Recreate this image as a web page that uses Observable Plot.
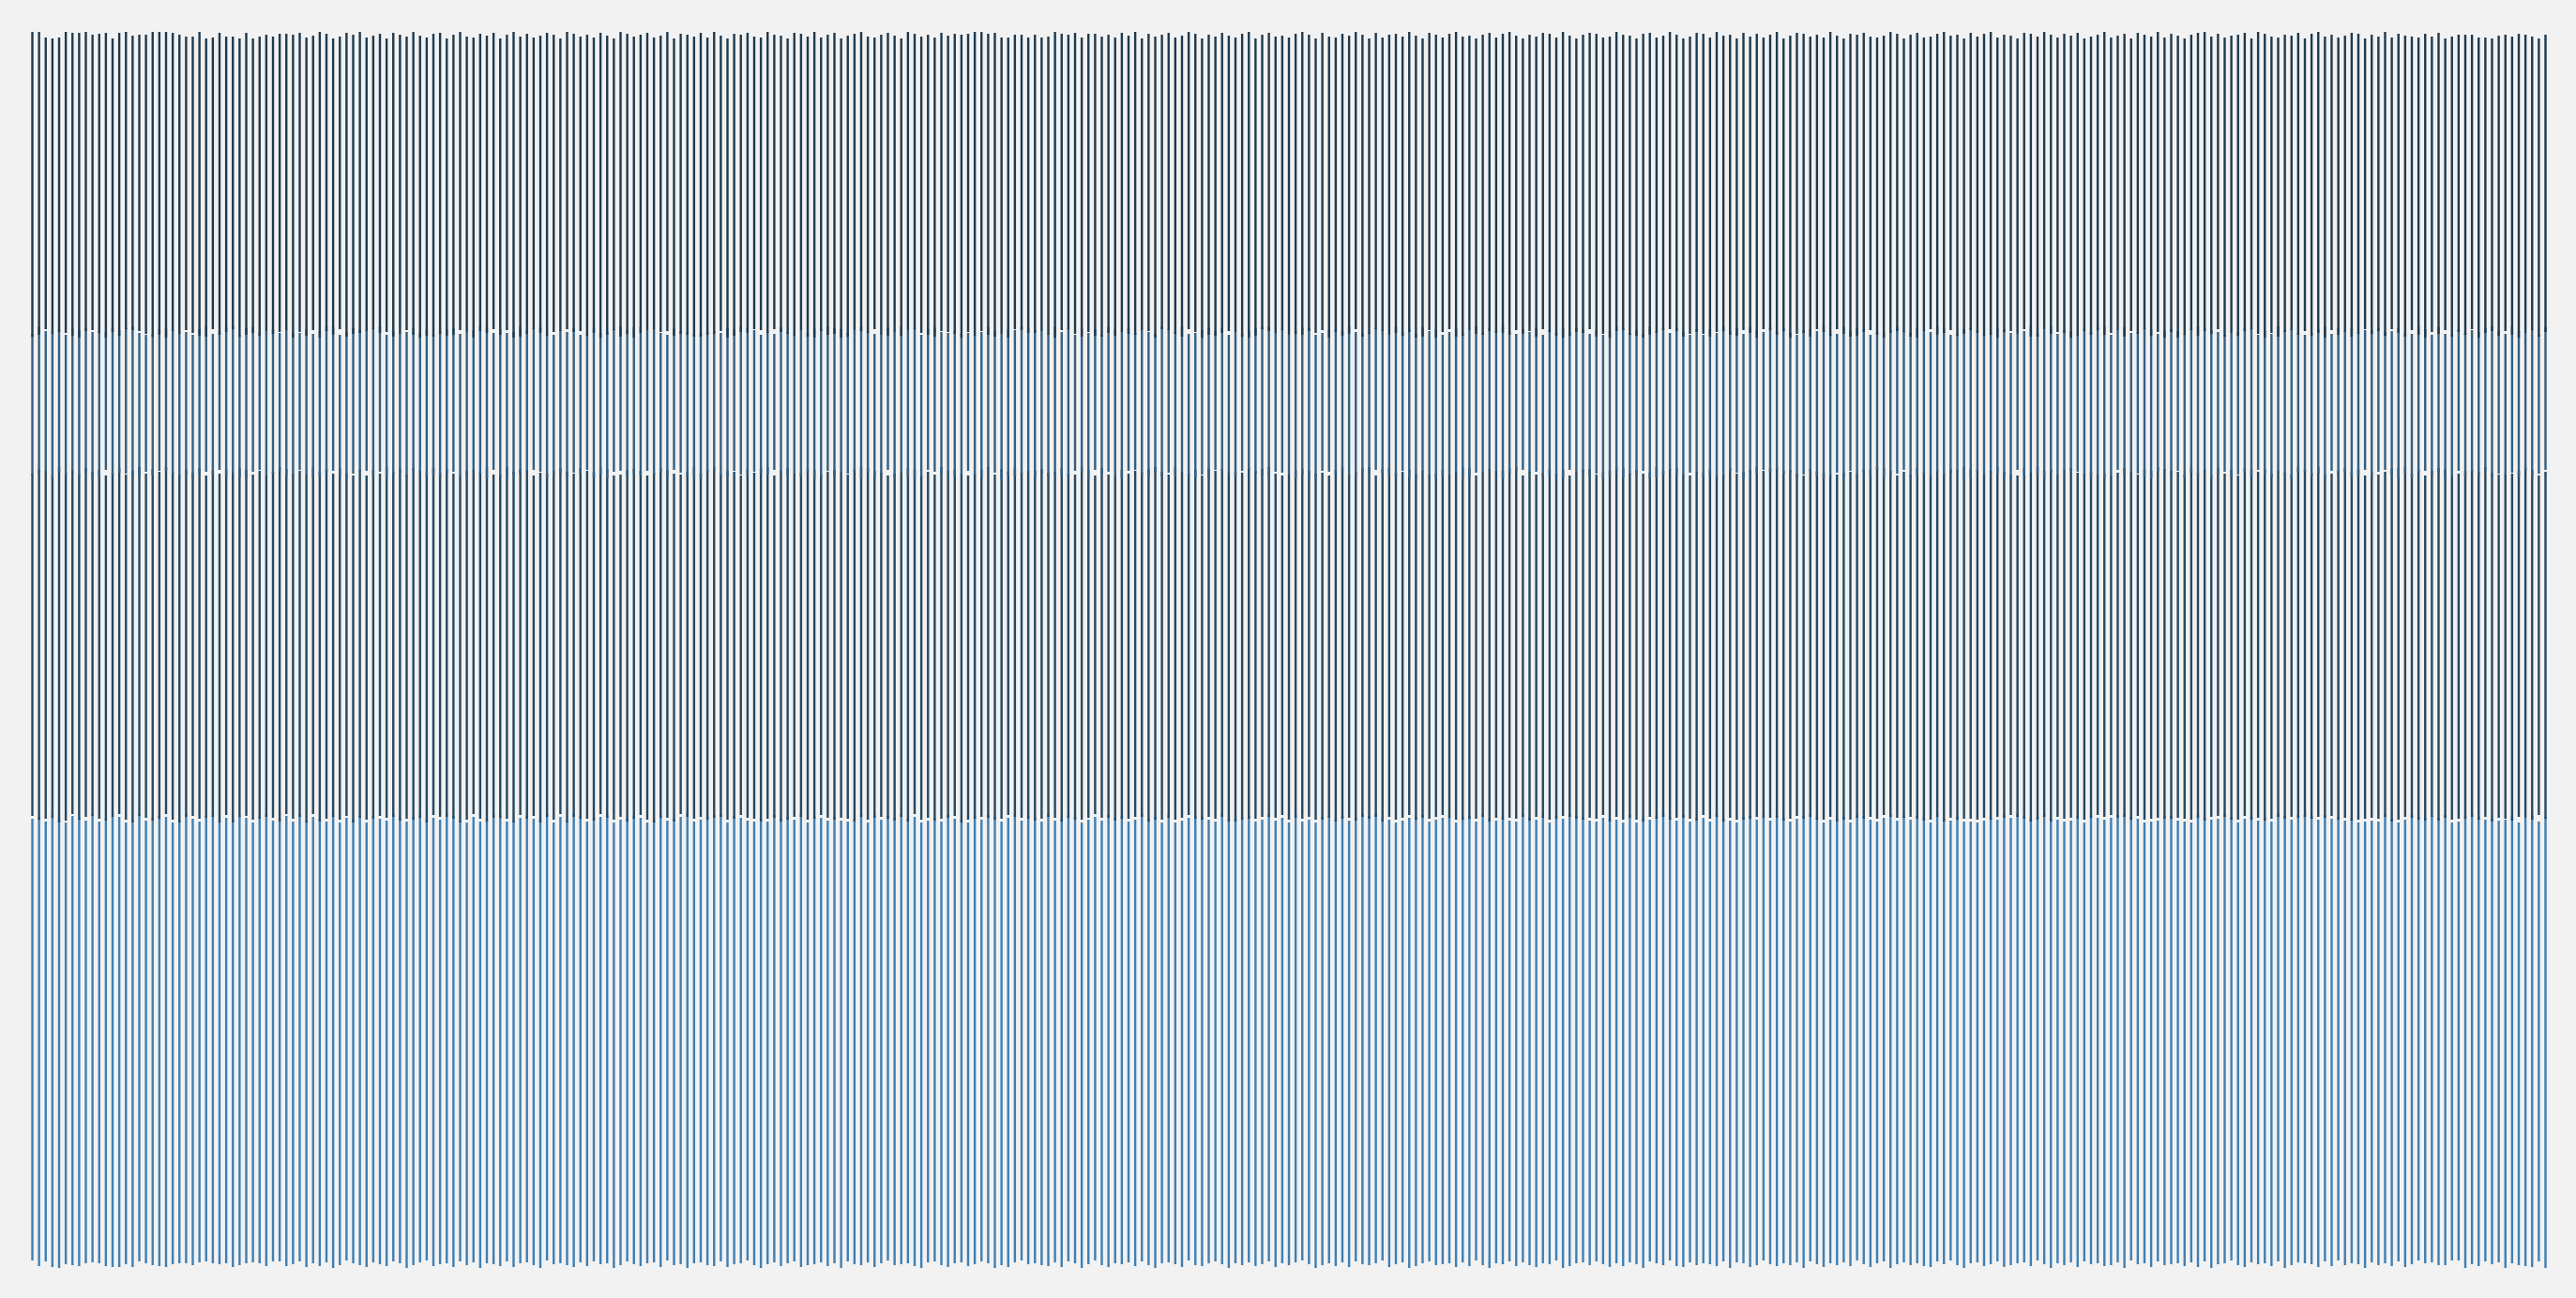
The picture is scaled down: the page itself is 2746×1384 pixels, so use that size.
<!DOCTYPE html>
<html><head><meta charset="utf-8">
<script src="https://cdn.jsdelivr.net/npm/d3@7"></script>
<script src="https://cdn.jsdelivr.net/npm/@observablehq/plot@0.6"></script>
<style>html,body{margin:0;padding:0;background:#f2f2f2;overflow:hidden}</style>
</head><body><div id="chart"></div>
<script>
// Segment 1 (top, dark): upper and lower ends
const s1hi = [1313,1313,1307,1306,1307,1313,1312,1312,1313,1310,1311,1312,1306,1312,1313,1309,1310,1310,1313,1313,1313,1312,1310,1308,1308,1313,1306,1307,1312,1308,1308,1306,1312,1306,1308,1310,1308,1311,1311,
1310,1312,1307,1309,1313,1311,1306,1308,1312,1310,
1313,1307,1309,1311,1306,1312,1310,1308,1313,1309,
1307,1311,1312,1306,1310,1313,1308,1307,1311,1309,
1312,1306,1310,1313,1308,1311,1307,1309,1312,1310,
1306,1313,1311,1308,1310,1307,1312,1309,1306,1313,
1311,1308,1310,1312,1307,1309,1313,1306,1311,1310,
1308,1312,1307,1313,1309,1306,1311,1310,1312,1308,
1307,1313,1310,1309,1306,1312,1311,1308,1313,1307,
1310,1312,1306,1309,1311,1313,1308,1307,1310,1312,
1309,1306,1313,1311,1308,1310,1307,1312,1309,1311,
1310,
1311,1313,1313,1311,1312,1307,1307,1310,1310,1307,1310,1307,1308,1313,1311,1310,1312,1307,1311,1311,1308,
1310,1307,1312,1309,1313,1306,1311,1308,1310,1312,
1307,1309,1313,1311,1306,1310,1308,1312,1309,1307,
1311,1313,1306,1310,1312,1308,1309,1307,1311,1313,
1310,1306,1312,1308,1307,1311,1309,1313,1310,1306,
1312,1307,1310,1311,1308,1313,1309,1306,1312,1310,
1307,1311,1313,1308,1309,1306,1310,1312,1307,1311,
1313,1309,1306,1310,1308,1312,1311,1307,1313,1309,
1306,1310,1312,1311,1307,1308,1313,1310,1309,1306,
1311,1312,1307,1309,1313,1310,1306,1308,1312,1311,
1307,1313,1309,1310,1306,1312,1308,1311,1307,1310,
1313,1306,1309,1312,1311,1308,1310,1307,1313,1309,
1306,1311,1310,1312,1308,1307,1309,1313,1311,1306,
1310,1312,1307,1308,1311,1313,1309,1310,1306,1312,
1308,1311,1313,1307,1310,1309,1306,1312,1311,1308,
1313,1310,1307,1311,1309,1312,1306,1308,1310,1313,
1307,1309,1311,1306,1312,1310,1308,1313,1307,1311,
1309,1306,1310,1312,1313,1308,1311,1307,1309,1310,
1312,1306,1313,1311,1308,1307,1310,1309,1312,1306,
1311,1313,1308,1310,1307,1309,1312,1311,1306,1310,
1308,1313,1307,1311,1309,
1308,1307,1311,1308,1312,1306,1308,1310,1310,1310,1307,1307,1306,1309,1310,1308,1311,1310,1308,1306,1310,1312,1312,1311,1314,1314,1307,1309,1308,1310,1310];

const s1lo = [988,990,996,991,993,992,989,987,994,995,
992,987,993,989,996,995,994,991,988,990,
987,994,991,995,992,989,988,996,990,993,
996,988,990,992,989,994,991,993,995,987,
993,989,995,987,994,990,996,988,991,992,
994,996,992,993,988,991,995,990,987,989,
988,991,989,990,995,993,987,994,992,996,
990,995,987,988,991,996,992,989,993,994,
996,993,994,989,992,987,990,995,988,991,
987,992,995,996,993,994,989,991,990,988,
988,990,991,994,987,989,993,992,996,995,
992,996,993,991,989,995,988,987,994,990,
991,987,988,995,994,992,996,990,989,993,
989,995,996,992,990,988,994,993,991,987,
993,989,994,990,988,991,987,996,995,992,
992,994,990,987,995,996,991,988,993,989,
988,992,989,993,991,990,995,994,987,996,
995,991,988,996,993,987,990,989,992,994,
993,988,987,989,996,994,992,995,990,991,
990,994,992,995,987,993,989,991,996,988,
991,996,994,990,992,989,993,987,988,995,
987,993,996,988,989,995,991,990,994,992,
992,990,995,991,994,988,996,993,989,987,
989,993,992,996,988,991,987,994,995,990,
989,987,990,992,995,996,994,988,991,993,
991,988,993,994,990,989,995,992,987,996,
995,990,994,987,991,992,988,996,993,989,
996,991,988,989,993,995,990,987,992,994,
993,988,987,994,996,990,992,995,989,991,
995,992,989,990,987,993,994,991,996,988,
988,996,991,993,992,987,989,994,990,995,
990,992,995,988,994,991,996,989,993,987,
993,987,990,995,989,994,991,996,988,992,
989,994,996,991,987,992,988,993,995,990,
994,989,992,987,995,990,993,988,991,996,
991,994,989,996,992,988,995,990,987,993,
991,995,988,993,990,996,987,992,994,989,
994,990,987,992,995,988,993,991,996,989,
989,995,991,988,993,987,992];

// Segment 2 (blue)
const s2hi = [991,999,994,992,996,990,998,995,997,993,
994,993,998,995,997,999,992,990,991,996,
997,995,992,993,990,996,999,991,994,998,
999,990,997,998,993,994,996,992,995,991,
992,996,991,994,999,998,990,993,997,995,
995,998,999,990,994,991,993,997,992,996,
990,994,996,997,991,993,995,999,998,992,
996,992,993,999,995,997,998,991,990,994,
993,997,990,991,998,992,994,996,999,995,
998,999,995,996,992,990,997,994,993,991,
991,993,994,992,997,996,999,998,995,990,
994,991,998,993,990,995,992,997,996,999,
997,996,992,995,999,994,991,990,998,993,
999,995,997,990,996,998,993,992,994,991,
992,990,993,998,994,991,996,995,999,997,
995,994,991,999,993,997,990,998,992,996,
990,998,996,994,997,992,995,993,991,999,
996,993,999,991,992,995,998,994,997,990,
993,991,994,997,998,999,992,996,990,995,
998,997,990,992,995,996,994,999,993,991,
992,997,995,990,999,993,996,991,998,994,
996,990,993,998,991,995,999,992,997,994,
999,994,991,996,993,998,990,995,992,997,
993,998,996,991,995,990,994,999,997,992,
995,991,999,994,997,992,998,993,990,996,
990,996,992,999,994,997,991,998,995,993,
998,993,997,992,990,995,996,994,999,991,
991,999,994,997,996,990,993,992,995,998,
994,992,998,995,993,999,997,990,991,996,
997,995,990,993,998,996,992,991,994,999,
992,996,999,991,995,994,990,997,993,998,
999,990,995,998,992,993,997,996,991,994,
996,994,991,997,999,998,995,993,990,992,
993,998,997,990,994,991,999,995,996,992,
990,992,996,999,991,997,994,998,993,995,
995,997,993,994,998,992,991,999,996,990,
998,991,990,996,992,995,993,997,999,994,
991,999,994,992,996,990,998,995,997,993,
994,990,996,999,995,992,991];

const s2lo = [840,842,845,838,844,841,846,839,843,837,
838,846,841,843,842,837,839,844,840,845,
845,842,839,840,837,843,844,841,846,838,
843,838,837,844,846,840,842,845,839,841,
846,841,838,839,843,845,840,837,842,844,
845,840,844,837,841,842,838,846,843,839,
841,838,843,844,840,839,845,842,837,846,
839,837,840,842,845,846,844,838,841,843,
839,843,842,846,838,841,837,844,845,840,
842,840,845,841,844,838,846,843,839,837,
837,843,846,838,839,845,841,840,844,842,
841,846,844,840,842,839,843,837,838,845,
840,844,842,845,837,843,839,841,846,838,
843,838,837,839,846,844,842,845,840,841,
845,841,838,846,843,837,840,839,842,844,
838,842,839,843,841,840,845,844,837,846,
842,844,840,837,845,846,841,838,843,839,
843,839,844,840,838,841,837,846,845,842,
839,845,846,842,840,838,844,843,841,837,
841,837,838,845,844,842,846,840,839,843,
842,846,843,841,839,845,838,837,844,840,
838,840,841,844,837,839,843,842,846,845,
837,842,845,846,843,844,839,841,840,838,
846,843,844,839,842,837,840,845,838,841,
840,845,837,838,841,846,842,839,843,844,
838,841,839,840,845,843,837,844,842,846,
844,846,842,843,838,841,845,840,837,839,
843,839,845,837,844,840,846,838,841,842,
846,838,840,842,839,844,841,843,845,837,
837,844,841,845,842,839,838,846,840,843,
842,837,843,839,846,845,844,841,838,840,
838,840,846,841,843,842,839,837,844,845,
841,845,838,843,840,846,837,842,844,839,
841,844,839,846,842,838,845,840,837,843,
844,839,842,837,845,840,843,838,841,846,
839,844,846,841,837,842,838,843,845,840,
843,837,840,845,839,844,841,846,838,842,
840,843,838,845,837,842,846];

// Segment 3 (dark)
const s3hi = [842,847,845,840,849,843,846,841,848,844,
846,840,843,848,841,845,849,842,847,844,
849,844,841,846,843,848,840,845,842,847,
843,848,846,841,845,840,844,849,847,842,
845,841,849,844,847,842,848,843,840,846,
840,846,842,849,844,847,841,848,845,843,
848,843,847,842,840,845,846,844,849,841,
841,849,844,847,846,840,843,842,845,848,
844,842,848,845,843,849,847,840,841,846,
847,845,840,843,848,846,842,841,844,849,
842,846,849,841,845,844,840,847,843,848,
849,840,845,848,842,843,847,846,841,844,
846,844,841,847,849,848,845,843,840,842,
843,848,847,840,844,841,849,845,846,842,
840,842,846,849,841,847,844,848,843,845,
845,847,843,844,848,842,841,849,846,840,
848,841,840,846,842,845,843,847,849,844,
841,849,844,842,846,840,848,845,847,843,
844,843,848,845,847,849,842,840,841,846,
847,845,842,843,840,846,849,841,844,848,
849,840,847,848,843,844,846,842,845,841,
842,846,841,844,849,848,840,843,847,845,
845,848,849,840,844,841,843,847,842,846,
840,844,846,847,841,843,845,849,848,842,
846,842,843,849,845,847,848,841,840,844,
843,847,840,841,848,842,844,846,849,845,
848,849,845,846,842,840,847,844,843,841,
841,843,844,842,847,846,849,848,845,840,
844,841,848,843,840,845,842,847,846,849,
847,846,842,845,849,844,841,840,848,843,
849,845,847,840,846,848,843,842,844,841,
842,840,843,848,844,841,846,845,849,847,
845,844,841,849,843,847,840,848,842,846,
840,848,846,844,847,842,845,843,841,849,
846,843,849,841,842,845,848,844,847,840,
843,841,844,847,848,849,842,846,840,845,
848,847,840,842,845,846,844,849,843,841,
841,842,845,849,846,840,844];

const s3lo = [477,473,474,475,470,472,479,473,476,477,
474,472,476,479,473,470,477,475,472,474,
479,473,470,476,477,474,475,476,470,478,
470,476,477,473,474,476,475,471,479,474,
476,470,479,471,474,476,473,477,470,475,
473,474,477,475,476,472,474,473,475,470,
478,476,476,474,470,473,479,474,471,475,
475,474,470,478,474,477,470,476,473,479,
470,476,474,474,472,479,475,473,476,471,
474,478,473,470,475,475,471,479,476,474,
476,473,475,476,473,474,478,475,474,471,
474,475,471,473,476,476,473,474,478,475,
473,475,474,471,476,473,475,476,474,472,
476,471,479,473,475,472,474,475,477,470,
473,474,476,475,473,474,478,476,475,474,
472,474,476,475,471,475,473,473,475,479,
475,475,472,474,474,476,476,471,473,473,
475,473,475,478,474,473,476,474,476,471,
471,473,474,474,476,476,475,478,473,475,
474,476,473,473,475,471,474,475,472,476,
474,476,471,476,473,475,478,473,475,474,
476,478,475,473,473,474,474,476,471,475,
473,475,474,476,472,476,475,473,474,477,
476,474,473,475,474,478,471,476,473,475,
473,471,476,474,476,473,475,475,474,472,
478,474,476,471,475,473,473,474,476,475,
475,475,472,474,477,474,476,473,473,476,
471,473,473,475,474,476,474,478,476,475,
475,476,474,472,473,476,471,475,473,474,
474,473,475,473,476,475,478,476,474,471,
473,476,471,476,474,475,474,473,475,478,
476,478,475,476,473,477,473,474,475,474,
474,475,474,473,475,472,476,477,476,473,
473,477,473,475,472,474,476,474,476,475,
476,474,476,475,477,473,475,472,473,474,
475,474,476,471,473,476,475,473,472,476,
472,475,473,474,474,476,473,476,471,475,
474,472,476,475,473,478,474,471,475,476,
471,473,474,476,476,474,475];

// Segment 4 (bottom, blue)
const s4hi = [474,476,471,478,473,470,477,475,472,479,
471,474,478,476,470,473,479,472,475,477,
476,470,473,479,474,471,477,478,472,475,
473,478,475,470,476,479,472,474,477,471,
479,472,476,474,471,478,470,475,473,477,
470,477,474,472,479,475,471,476,478,473,
475,473,479,477,472,470,476,471,474,478,
478,471,472,475,477,474,473,479,470,476,
472,479,477,471,475,476,478,470,473,474,
477,475,470,473,478,472,474,476,479,471,
473,476,478,479,470,477,475,472,471,474,
471,478,474,476,473,479,470,477,475,472,
476,472,471,474,479,470,478,473,477,475,
479,474,476,470,472,475,471,478,474,473,
470,477,473,478,476,471,475,479,472,477,
475,471,479,472,474,478,476,470,473,476,
472,478,475,477,471,473,479,474,476,470,
478,470,472,475,477,476,473,471,479,474,
474,476,477,471,473,479,472,475,470,478,
471,473,470,476,478,474,477,472,475,479,
477,479,474,473,470,472,475,476,478,471,
473,475,478,470,476,477,471,479,474,472,
476,472,471,479,475,473,478,470,477,474,
479,477,476,472,471,475,474,473,470,478,
470,474,473,477,479,476,472,478,471,475,
475,471,479,474,472,470,476,477,473,478,
472,478,475,471,474,477,479,476,470,473,
474,476,470,478,477,473,471,475,479,472,
478,473,477,475,470,479,474,472,476,471,
471,470,472,476,473,478,475,479,477,474,
476,479,474,473,471,472,477,470,478,475,
473,475,478,479,476,474,470,471,472,477,
477,472,471,470,478,475,473,474,479,476,
470,474,476,472,475,471,479,477,473,478,
479,477,473,478,474,476,472,475,470,471,
472,471,479,474,470,473,478,476,475,477,
475,478,470,471,477,479,476,473,474,472,
473,477,470,475,478,471,476,479,472,474,
474,476,477,473,479,472,471];

const s4lo = [3,-3,2,-4,-5,-1,-2,-3,0,1,0,-3,-4,-4,-1,-4,2,0,-2,-3,-4,-1,0,0,-2,1,2,0,-1,0,-4,-2,0,1,0,-3,2,2,-3,
-1,2,-4,0,-3,1,-5,-2,3,0,
-2,-4,1,-1,-3,2,0,-5,-2,1,
3,-3,-1,0,-4,2,-2,1,-5,0,
-1,-3,2,-4,0,1,-2,-5,3,-1,
0,-2,-4,1,-3,2,-1,0,-5,-2,
2,-1,-3,0,1,-4,3,-2,-1,-5,
0,1,-2,-3,2,-4,-1,0,3,-2,
-5,-1,1,-3,0,2,-4,-2,-1,1,
-3,0,-5,2,-1,-2,1,-4,0,3,
-2,-1,0,-3,-5,1,2,-2,-4,0,
1,-3,-1,2,0,-5,-2,-4,1,3,
-1,0,-2,-3,1,-4,2,0,-5,-1,
3,-2,-4,0,-1,1,-3,2,-2,-5,
0,1,-1,-4,3,-2,-3,0,2,-1,
-5,0,-2,1,-3,-1,2,-4,0,-2,
1,3,-1,-5,-2,0,-3,1,-4,2,
-1,-2,0,3,-4,-1,1,-5,-3,0,
2,-2,-1,0,-4,1,-3,3,-2,-5,
0,-1,2,-3,1,-2,-4,0,-1,3,
-5,-3,0,1,-2,2,-1,-4,0,-3,
1,-1,-5,2,0,-2,3,-3,-4,1,
-2,0,-1,-3,2,-5,1,0,-4,-2,
3,-1,-3,0,-2,1,-5,2,-1,-4,
0,-2,1,-3,3,-1,-4,0,2,-5,
-1,1,-2,0,-3,-4,2,-1,3,-2,
-5,0,1,-3,-1,2,-4,-2,0,1,
-3,3,-1,-5,0,-2,1,-4,2,-1,
0,-3,-2,1,-5,3,-1,0,-4,2,
-2,-1,0,-3,1,-4,2,-5,-1,0,
3,-2,-4,1,-1,0,-3,2,-5,-2,
1,0,-1,-4,2,-3,3,-2,0,-1,
-5,1,-2,0,-3,2,-4,-1,
3,0,1,-2,-2,3,3,-5,-1,-3,2,-1,1,-5,0,-2,-3,-4,2,-5,0,1,-3,-5,0,-5,-1,-5,0,0];

const segNames = ["s4", "s3", "s2", "s1"];
const segColors = ["#3f7fb3", "#264861", "#335f82", "#1f3a4e"];
const segLo = [s4lo, s3lo, s2lo, s1lo];
const segHi = [s4hi, s3hi, s2hi, s1hi];

const N = Math.min(...segLo.map(a => a.length), ...segHi.map(a => a.length));
const rows = [];
segNames.forEach((name, k) => {
  for (let i = 0; i < N; i++) rows.push({i, k: name, y1: segLo[k][i], y2: segHi[k][i]});
});

const chart = Plot.plot({
  width: 2746,
  height: 1384,
  marginTop: 0,
  marginBottom: 0,
  marginLeft: 34,
  marginRight: 33,
  style: {background: "#f2f2f2"},
  x: {type: "linear", domain: [0, N - 1], axis: null},
  y: {domain: [-37, 1347], axis: null},
  color: {domain: segNames, range: segColors},
  marks: [
    Plot.ruleX(rows, {x: "i", y1: "y1", y2: "y2", stroke: "k", strokeWidth: 2.4})
  ]
});
document.getElementById("chart").append(chart);
</script>
</body></html>
